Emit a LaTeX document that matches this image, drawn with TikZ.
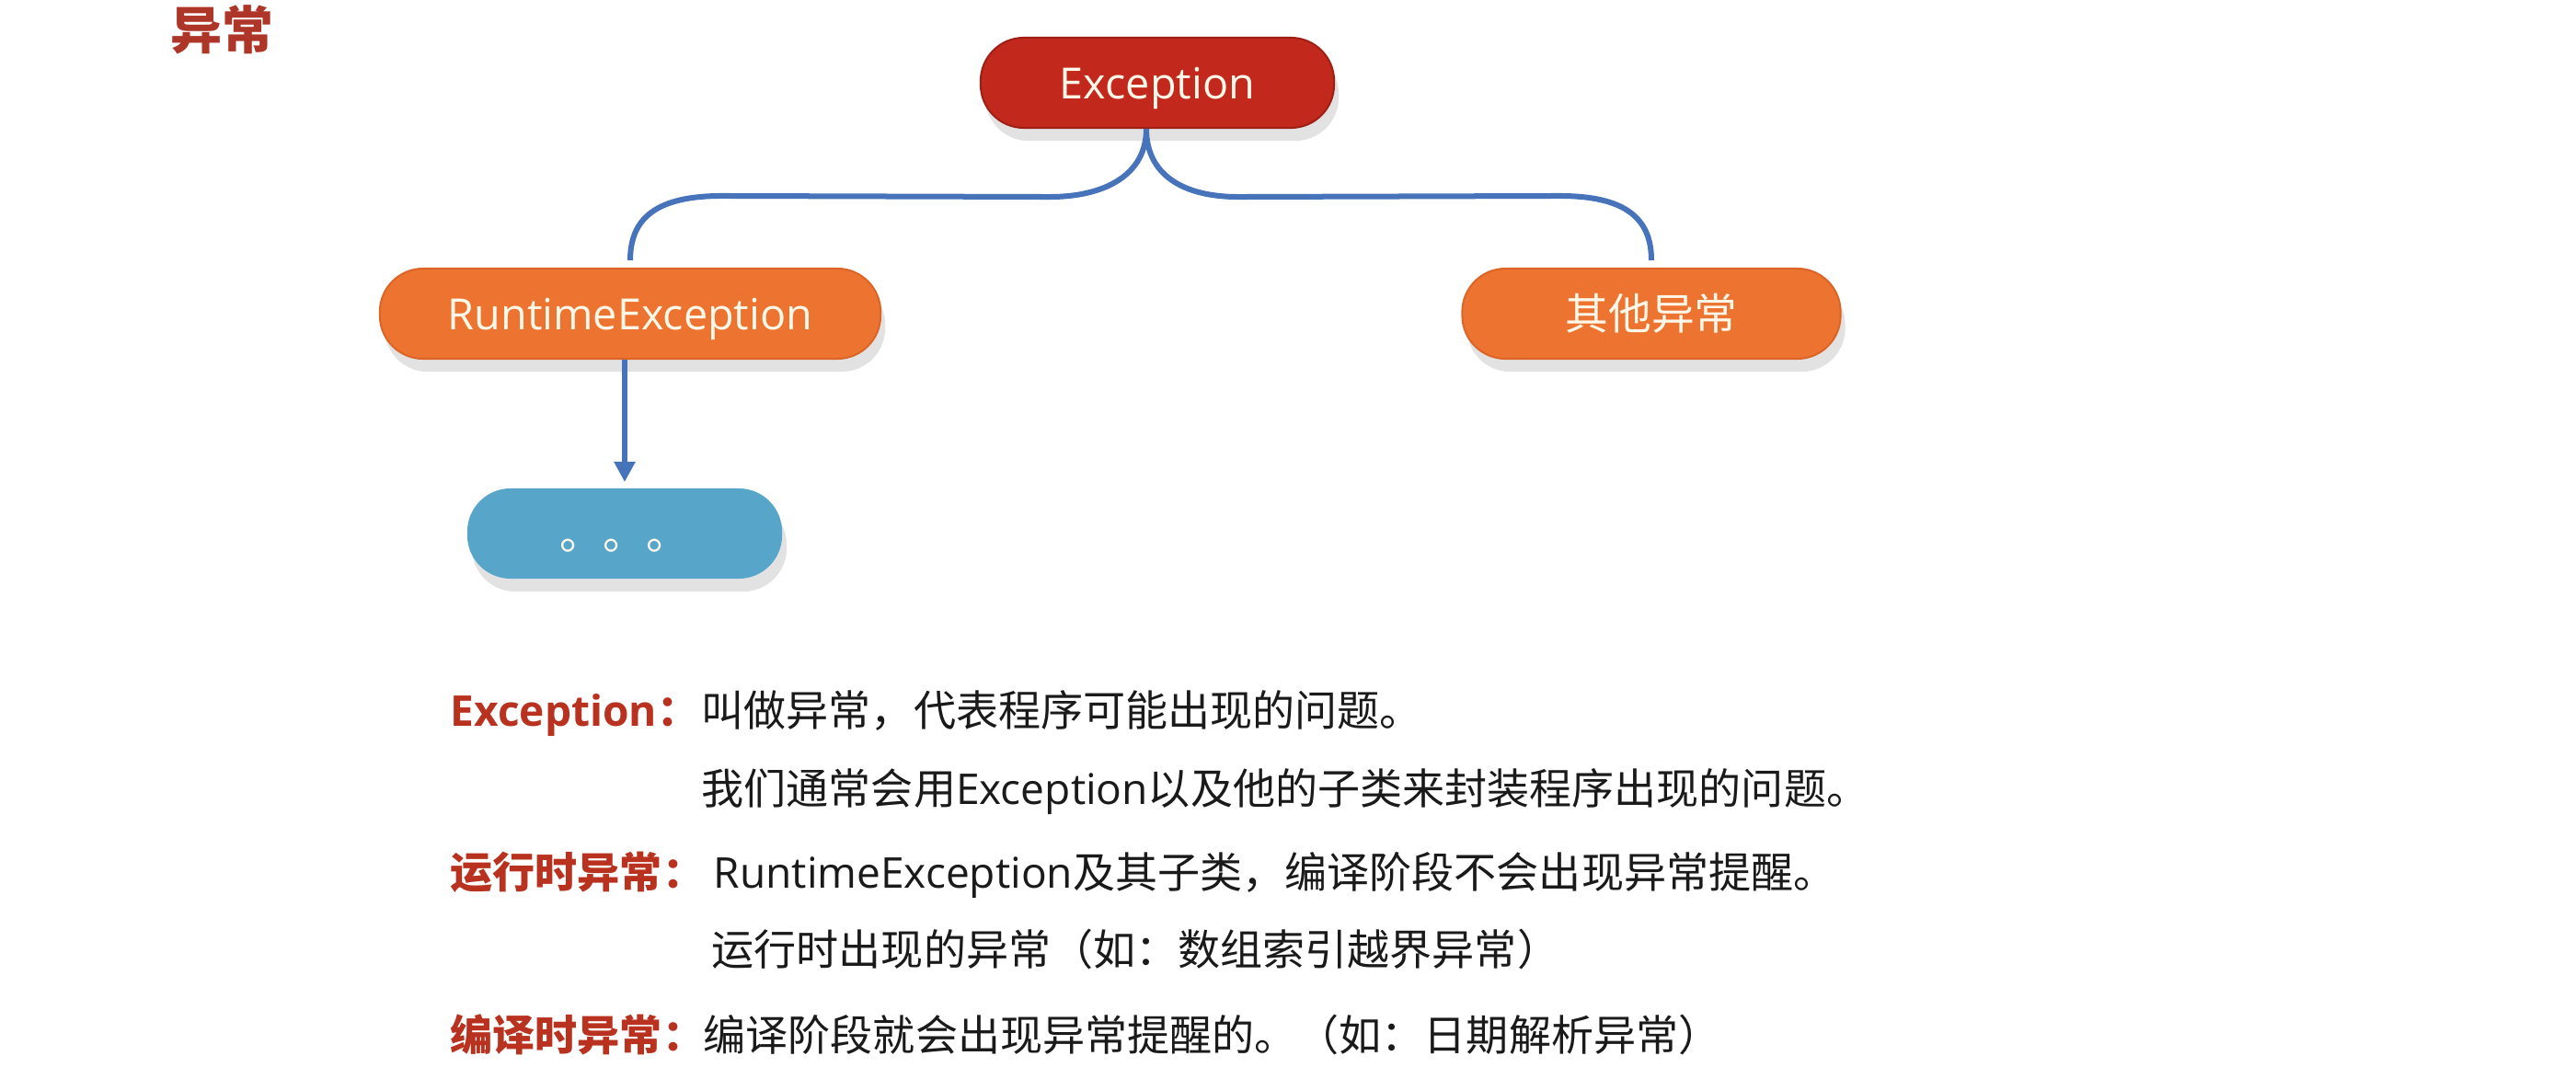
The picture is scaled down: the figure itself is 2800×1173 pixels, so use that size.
\documentclass[tikz,border=0pt]{standalone}
\usepackage{fontspec}
\setmainfont{Open Sans}
\newfontfamily\cjk{Noto Sans CJK SC}
\usetikzlibrary{arrows.meta,calc,shadows}

\definecolor{exred}{HTML}{C2291C}
\definecolor{exredline}{HTML}{9E1F14}
\definecolor{rtorange}{HTML}{ED7430}
\definecolor{rtorangeline}{HTML}{DB6426}
\definecolor{moreblue}{HTML}{57A6CA}
\definecolor{shadowgray}{HTML}{E2E2E2}
\definecolor{pilltext}{HTML}{FFF7E8}
\definecolor{linkblue}{HTML}{4673B9}
\definecolor{headred}{HTML}{AE3628}
\definecolor{labelred}{HTML}{B8321F}
\definecolor{bodyblack}{HTML}{1A1A1A}

\newcommand\pillfont{\fontsize{13.3pt}{16pt}\selectfont}
\newcommand\notefont{\fontsize{13.1pt}{16pt}\selectfont}
\newcommand\headfont{\fontsize{15.9pt}{19pt}\selectfont}

\tikzset{
  pill/.style={rounded corners=0.47cm, minimum height=0.98cm, inner sep=0pt,
    text=pilltext, font=\pillfont, line width=0.02cm,
    text height=0.34cm, text depth=0pt,
    general shadow={fill=shadowgray, shadow xshift=0.05cm, shadow yshift=-0.14cm}},
  link/.style={draw=linkblue, line width=0.06cm},
  note/.style={anchor=base west, inner sep=0pt, font=\notefont, text=bodyblack},
  label/.style={note, text=labelred, font=\notefont\bfseries},
}

\begin{document}
\begin{tikzpicture}[x=0.01cm, y=-0.01cm]
  \useasboundingbox[fill=white] (0,0) rectangle (2800,1173);

  % heading
  \node[anchor=base west, inner sep=0pt, text=headred, font=\headfont\bfseries]
    (head) at (185,54) {\cjk 异常};

  % class hierarchy
  \node[pill, fill=exred, draw=exredline, minimum width=3.84cm] (exc) at (1258,90) {Exception};
  \node[pill, fill=rtorange, draw=rtorangeline, minimum width=5.44cm] (rt) at (685,341) {RuntimeException};
  \node[pill, fill=rtorange, draw=rtorangeline, minimum width=4.11cm] (oth) at (1795,341) {\cjk 其他异常};
  \node[pill, fill=moreblue, minimum width=3.42cm] (more) at (679,580) {\cjk 。。。};

  \coordinate (fork) at ([xshift=-0.12cm]exc.south);

  \draw[link, shorten >=0.08cm] (fork) .. controls +(0,50) and +(60,0) .. ($(fork)+(-105,74)$)
    -- ($(rt.north)+(100,-78)$) .. controls +(-70,0) and +(0,-55) .. (rt.north);
  \draw[link, shorten >=0.08cm] (fork) .. controls +(0,50) and +(-60,0) .. ($(fork)+(100,74)$)
    -- ($(oth.north)+(-100,-78)$) .. controls +(70,0) and +(0,-55) .. (oth.north);
  \draw[link, -{Triangle[length=0.22cm,width=0.22cm]}, shorten >=0.06cm]
    (rt.south -| more.north) -- (more.north);

  % explanations
  \node[label] (l1) at (489,789) {Exception{\cjk ：}};
  \node[note] (t1) at (762,789) {\cjk 叫做异常，代表程序可能出现的问题。};
  \node[note] (t2) at (762,874) {{\cjk 我们通常会用}Exception{\cjk 以及他的子类来封装程序出现的问题。}};

  \node[label] (l2) at (489,965) {\cjk 运行时异常：};
  \node[note] (t3) at (775,965) {RuntimeException{\cjk 及其子类，编译阶段不会出现异常提醒。}};
  \node[note] (t4) at (773,1049) {\cjk 运行时出现的异常（如：数组索引越界异常）};

  \node[label] (l3) at (489,1142) {\cjk 编译时异常：};
  \node[note] (t5) at (764,1142) {\cjk 编译阶段就会出现异常提醒的。（如：日期解析异常）};
\end{tikzpicture}
\end{document}
